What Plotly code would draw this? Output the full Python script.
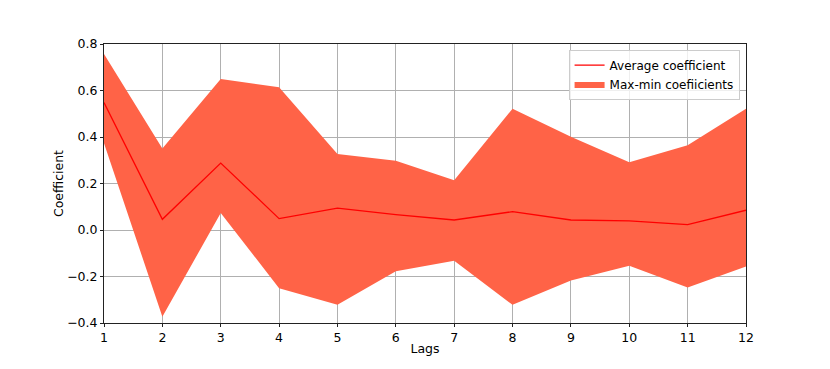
import plotly.graph_objects as go

lags = list(range(1, 13))
avg_coef = [0.548, 0.046, 0.288, 0.049, 0.094, 0.066, 0.043, 0.079, 0.043, 0.039, 0.023, 0.085]
max_coef = [0.757, 0.351, 0.650, 0.614, 0.327, 0.298, 0.214, 0.522, 0.401, 0.291, 0.365, 0.522]
min_coef = [0.373, -0.373, 0.073, -0.250, -0.321, -0.177, -0.132, -0.322, -0.217, -0.154, -0.247, -0.157]

font = "DejaVu Sans"

fig = go.Figure()

# band between min and max, drawn first so the mean line sits on top
fig.add_trace(go.Scatter(
    x=lags + lags[::-1],
    y=max_coef + min_coef[::-1],
    fill="toself",
    fillcolor="#ff6347",
    line=dict(width=0, color="#ff6347"),
    mode="lines",
    name="Max-min coefiicients",
    legendrank=2,
    hoverinfo="skip",
))
fig.add_trace(go.Scatter(
    x=lags,
    y=avg_coef,
    mode="lines",
    line=dict(color="red", width=1.3),
    name="Average coefficient",
    legendrank=1,
))

axis_style = dict(
    showline=True,
    linecolor="#222222",
    linewidth=1,
    mirror=True,
    ticks="outside",
    ticklen=3,
    tickcolor="#222222",
    showgrid=True,
    gridcolor="#b0b0b0",
    gridwidth=0.8,
    zeroline=False,
    tickfont=dict(family=font, size=12.5, color="black"),
)

fig.update_xaxes(
    range=[1, 12],
    tickvals=lags,
    title=dict(text="Lags", font=dict(family=font, size=12.5, color="black"), standoff=0),
    **axis_style,
)
fig.update_yaxes(
    range=[-0.4, 0.8],
    tickvals=[-0.4, -0.2, 0.0, 0.2, 0.4, 0.6, 0.8],
    tickformat=".1f",
    title=dict(text="Coefficient", font=dict(family=font, size=12.5, color="black"), standoff=0),
    **axis_style,
)

fig.update_layout(
    width=830,
    height=369,
    margin=dict(l=96, r=92, t=36, b=54),
    plot_bgcolor="white",
    paper_bgcolor="white",
    font=dict(family=font, size=12.5, color="black"),
    legend=dict(
        x=0.99,
        y=0.98,
        xanchor="right",
        yanchor="top",
        bgcolor="rgba(255,255,255,0.8)",
        bordercolor="#cccccc",
        borderwidth=1,
        font=dict(family=font, size=12, color="black"),
        tracegroupgap=0,
        itemwidth=30,
    ),
    showlegend=True,
)

fig.write_html("out.html")
